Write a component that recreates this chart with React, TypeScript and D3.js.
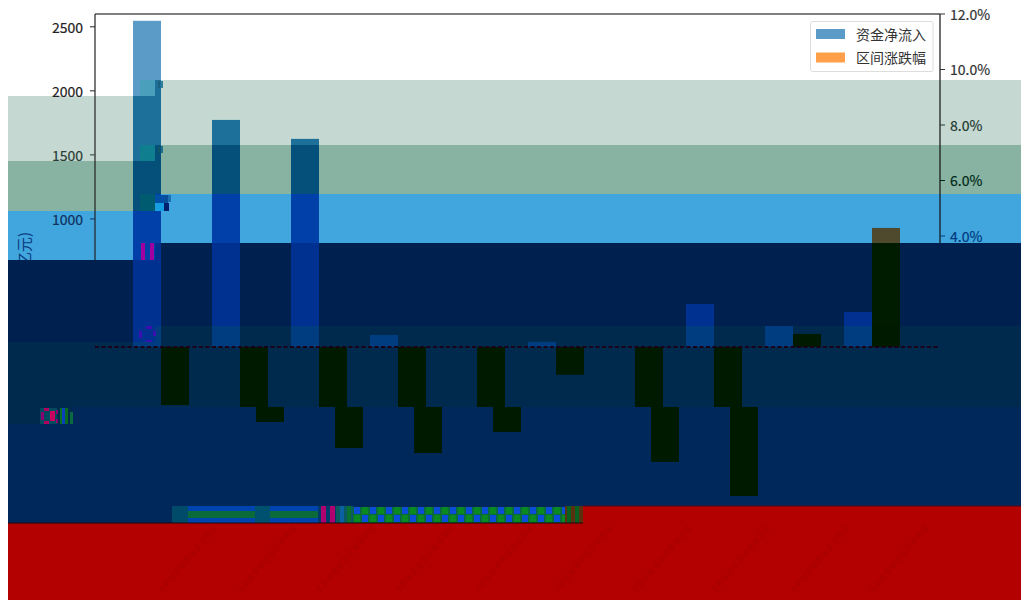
import React from "react";
import * as d3 from "d3";

// ---- data ----
const categories = ["0", "1", "2", "3", "4", "5", "6", "7", "8", "9"];
const netInflow = [2547, 1773, 1625, 94, 0, 40, 0, 336, 164, 273];
const rangeChange = [-2.09, -2.7, -3.64, -3.82, -3.06, -1.0, -4.14, -5.37, 0.47, 4.29];
const leftTicks = [2500, 2000, 1500, 1000];
const leftTickInk = ["#222", "#222", "#2b3d36", "#10305e"];
const rightTicks = [12, 10, 8, 6, 4];
const rightTickInk = ["#333", "#333", "#1f3a30", "#002a18", "#003a80"];
const legendNames = ["资金净流入", "区间涨跌幅"];
const legendColors = ["#5b9bc8", "#ff9f4a"];

// ---- colour bands of the picture ----
const bandFill = ["#c5d9d2", "#88b3a2", "#40a6dd", "#00204f", "#002a4d", "#00285b", "#b30000"];
const blueOnBand = ["#5b9bc8", "#1c7099", "#04507a", "#0040a8", "#003090", "#003c80", "#003090", "#003090"];
const orangeOnBand = ["#ff9f4a", "#4f4a2e", "#4f4a2e", "#4f4a2e", "#001c00", "#001a00", "#001a00", "#001a00"];
const columns = [
  { x0: 8, x1: 72, tops: [96, 161, 211, 260, 342, 424, 523] },
  { x0: 72, x1: 155, tops: [96, 161, 211, 260, 342, 407, 523] },
  { x0: 155, x1: 583, tops: [80, 145, 194, 243, 326, 407, 523] },
  { x0: 583, x1: 1021, tops: [80, 145, 194, 243, 326, 407, 506] },
];
// blocks and glyph fragments: [x, y, w, h, colour]
const patches: [number, number, number, number, string][] = [
  [140, 80, 15, 16, "#4aa0bc"],
  [140, 145, 15, 16, "#0f7f90"],
  [140, 194, 15, 17, "#005b70"],
  [155, 88, 6, 8, "#1c7099"],
  [155, 195, 9, 8, "#0050a8"],
  [155, 203, 9, 8, "#14a0e0"],
  [164, 203, 5, 8, "#00206e"],
  [164, 195, 4, 8, "#0a4f9c"],
  [168, 195, 3, 7, "#1a70b0"],
  [158, 81, 2, 7, "#1c5f7e"],
  [161, 81, 2, 7, "#2f7f98"],
  [158, 146, 2, 7, "#0f5568"],
  [161, 146, 2, 7, "#1f7088"],
  [141, 243, 4, 17, "#a000a0"],
  [150, 243, 4, 17, "#a000a0"],
  [146, 326, 6, 3, "#3a10b0"],
  [146, 340, 6, 2, "#3a10b0"],
  [139, 331, 3, 7, "#3a10b0"],
  [153, 331, 3, 5, "#3a10b0"],
  [40, 408, 17, 16, "#004a60"],
  [44, 408, 5, 3, "#b00060"],
  [44, 421, 5, 3, "#b00060"],
  [41, 412, 3, 8, "#900070"],
  [50, 411, 5, 10, "#c80060"],
  [56, 410, 2, 4, "#900070"],
  [56, 419, 2, 4, "#900070"],
  [60, 408, 2, 16, "#0a7020"],
  [62, 408, 3, 16, "#0a40c0"],
  [65, 408, 3, 16, "#0a6a20"],
  [70, 412, 3, 12, "#0a6a40"],
  [172, 506, 16, 17, "#004a6a"],
  [188, 506, 67, 17, "#0044b0"],
  [188, 511, 67, 7, "#0a6a3a"],
  [255, 506, 15, 17, "#005070"],
  [270, 506, 48, 17, "#0044b0"],
  [270, 511, 48, 7, "#0a6a3a"],
  [318, 506, 18, 17, "#003a6a"],
  [321, 506, 5, 17, "#b00070"],
  [330, 506, 5, 17, "#b00070"],
  [336, 506, 17, 17, "#0a5a60"],
  [340, 506, 4, 17, "#0a60a0"],
  [347, 506, 4, 17, "#0a7030"],
  [565, 506, 18, 17, "#5a3010"],
  [567, 506, 4, 17, "#0a6020"],
  [575, 506, 4, 17, "#0a6020"],
];

const width = 1021;
const height = 600;
const plotTop = 14;
const zeroY = 347;
const plotLeft = 95;
const plotRight = 940;
const barWidth = 28;
const lowerShift = 16;
const lowerFrom = 407;

const x = d3.scaleBand<string>().domain(categories).range([121.5, 911.5]);
const yLeft = d3.scaleLinear().domain([0, 2600]).range([zeroY, plotTop]);
const yRight = d3.scaleLinear().domain([0, 12]).range([zeroY, plotTop]);
const fmtPct = d3.format(".1f");

type Cell = { x: number; y: number; w: number; h: number; fill: string };

function cells(xa: number, xb: number, ya: number, yb: number, palette: string[]): Cell[] {
  const out: Cell[] = [];
  for (const col of columns) {
    const cx0 = Math.max(xa, col.x0);
    const cx1 = Math.min(xb, col.x1);
    if (cx1 <= cx0) continue;
    const edges = [0, ...col.tops, height];
    for (let k = 0; k < edges.length - 1; k++) {
      const top = Math.max(ya, edges[k]);
      const bot = Math.min(yb, edges[k + 1]);
      if (bot <= top) continue;
      out.push({ x: cx0, y: top, w: cx1 - cx0, h: bot - top, fill: palette[k] });
    }
  }
  return out;
}

function shiftLower(c: Cell): Cell {
  return c.y >= lowerFrom ? { ...c, x: c.x + lowerShift } : c;
}

export default function App() {
  const font = "'Noto Sans CJK SC', 'Noto Sans', sans-serif";
  return (
    <svg
      width={width}
      height={height}
      viewBox={`0 0 ${width} ${height}`}
      style={{ position: "absolute", left: 0, top: 0, background: "#fff" }}
    >
      <defs>
        <clipPath id="labelClip">
          <rect x={0} y={0} width={90} height={260} />
        </clipPath>
        <pattern id="checker" x={353} y={507} width={16} height={16} patternUnits="userSpaceOnUse">
          <rect width={16} height={16} fill="#0a6a3a" />
          <rect x={1} y={0} width={6} height={7} fill="#0a4ed8" />
          <rect x={9} y={0} width={6} height={7} fill="#0a8a20" />
          <rect x={1} y={8} width={6} height={7} fill="#0a8a20" />
          <rect x={9} y={8} width={6} height={7} fill="#0a4ed8" />
        </pattern>
      </defs>

      {/* colour bands */}
      {columns.map((col) =>
        col.tops.map((t, k) => (
          <rect
            key={`${col.x0}-${k}`}
            x={col.x0}
            y={t}
            width={col.x1 - col.x0}
            height={(k + 1 < col.tops.length ? col.tops[k + 1] : height) - t}
            fill={bandFill[k]}
          />
        ))
      )}

      {/* left axis label, cut by the dark band */}
      <g clipPath="url(#labelClip)">
        <text
          transform="translate(26,232) rotate(-90)"
          textAnchor="end"
          dominantBaseline="middle"
          fontFamily={font}
          fontSize={15}
          fill="#0a3a80"
        >
          资金净流入(亿元)
        </text>
      </g>

      {/* bars */}
      {categories.map((c, i) => {
        const cx = (x(c) as number) + x.bandwidth() / 2;
        const bv = yLeft(netInflow[i]);
        const ov = yRight(rangeChange[i]);
        const blue = cells(cx - barWidth, cx, Math.min(bv, zeroY), Math.max(bv, zeroY), blueOnBand);
        const orange = cells(cx, cx + barWidth, Math.min(ov, zeroY), Math.max(ov, zeroY), orangeOnBand).map(shiftLower);
        return (
          <g key={c}>
            {blue.map((r, j) => (
              <rect key={`b${j}`} x={r.x} y={r.y} width={r.w} height={r.h} fill={r.fill} />
            ))}
            {orange.map((r, j) => (
              <rect key={`o${j}`} x={r.x} y={r.y} width={r.w} height={r.h} fill={r.fill} />
            ))}
            {/* faint remains of the category labels in the red band */}
            <line
              x1={cx + 54}
              y1={527}
              x2={cx}
              y2={590}
              stroke="#ad0000"
              strokeWidth={6}
              strokeDasharray="5 3"
            />
          </g>
        );
      })}

      {/* block fragments */}
      <rect x={353} y={507} width={212} height={16} fill="url(#checker)" />
      {patches.map(([px, py, pw, ph, fill], i) => (
        <rect key={i} x={px} y={py} width={pw} height={ph} fill={fill} />
      ))}

      {/* dark edge above the red band */}
      <line x1={8} x2={583} y1={523} y2={523} stroke="#1a0a10" strokeWidth={1} />
      <line x1={583} x2={1021} y1={506} y2={506} stroke="#4a0a20" strokeWidth={1} />

      {/* zero line */}
      <line
        x1={plotLeft}
        x2={plotRight}
        y1={zeroY}
        y2={zeroY}
        stroke="#1a0018"
        strokeWidth={2}
        strokeDasharray="4 2.5"
      />

      {/* spines */}
      <line x1={plotLeft} x2={plotRight} y1={plotTop} y2={plotTop} stroke="#555" strokeWidth={1.4} />
      <line x1={plotLeft} x2={plotLeft} y1={plotTop} y2={260} stroke="#222" strokeWidth={1.2} />
      <line x1={plotRight} x2={plotRight} y1={plotTop} y2={243} stroke="#111" strokeWidth={1.2} />

      {/* ticks */}
      {leftTicks.map((t, i) => (
        <g key={t}>
          <line x1={plotLeft - 5} x2={plotLeft} y1={yLeft(t)} y2={yLeft(t)} stroke={leftTickInk[i]} />
          <text
            x={plotLeft - 12}
            y={yLeft(t)}
            textAnchor="end"
            dominantBaseline="central"
            fontFamily={font}
            fontSize={14}
            fill={leftTickInk[i]}
            stroke={leftTickInk[i]}
            strokeWidth={0.2}
          >
            {t}
          </text>
        </g>
      ))}
      {rightTicks.map((t, i) => (
        <g key={t}>
          <line x1={plotRight} x2={plotRight + 5} y1={yRight(t)} y2={yRight(t)} stroke={rightTickInk[i]} />
          <text
            x={plotRight + 10}
            y={yRight(t) - 0.5}
            dominantBaseline="central"
            fontFamily={font}
            fontSize={14}
            fill={rightTickInk[i]}
            stroke={rightTickInk[i]}
            strokeWidth={0.2}
          >
            {fmtPct(t)}%
          </text>
        </g>
      ))}

      {/* legend */}
      <rect x={810.5} y={21.5} width={122.5} height={50} rx={2} fill="#fff" stroke="#ddd" />
      {legendNames.map((n, i) => (
        <g key={n}>
          <rect x={816} y={29 + i * 23.5} width={29} height={10} fill={legendColors[i]} />
          <text
            x={856}
            y={33.5 + i * 23.5}
            dominantBaseline="central"
            fontFamily={font}
            fontSize={14}
            fill="#333"
          >
            {n}
          </text>
        </g>
      ))}
    </svg>
  );
}
